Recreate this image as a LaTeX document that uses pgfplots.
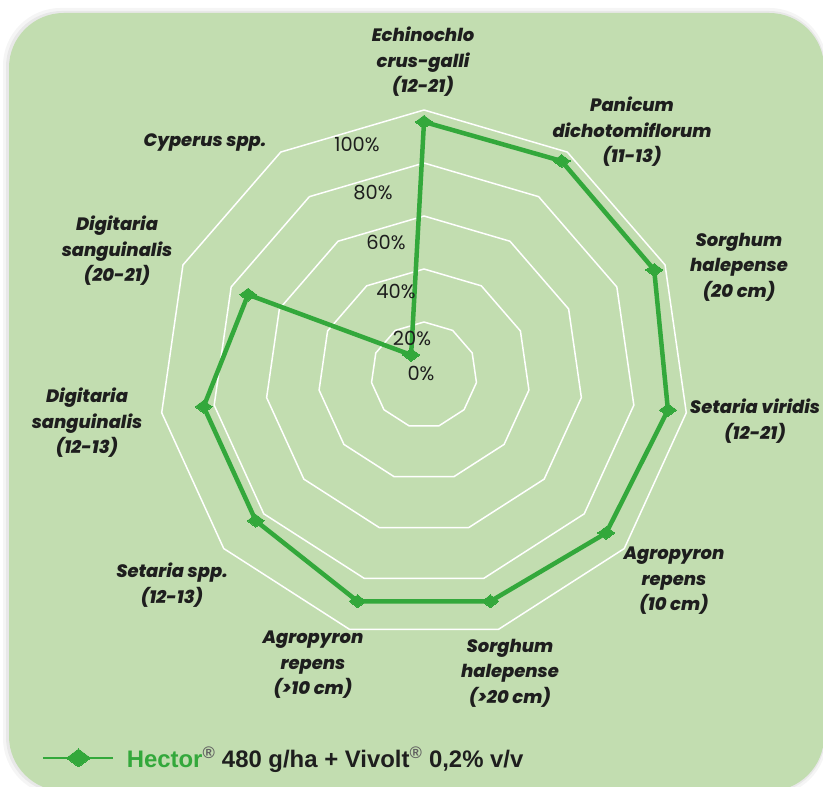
\documentclass[border=0pt]{standalone}
\usepackage{pgfplots}
\pgfplotsset{compat=1.18}
\usepgfplotslibrary{polar}
\usepackage{fontspec}
\setmainfont{Poppins}[BoldFont={Poppins Bold},BoldItalicFont={Poppins ExtraBold Italic}]
\newfontfamily\legfont{Liberation Sans}
\definecolor{card}{HTML}{C2DDB0}
\definecolor{hgreen}{HTML}{33A83B}
\definecolor{txt}{HTML}{1E1E1E}
\newcommand{\lab}{\fontsize{18}{25.5}\selectfont\bfseries\itshape\color{txt}}
\newcommand{\tl}{\fontsize{19.5}{22}\selectfont\color{txt}}
\begin{document}
\begin{tikzpicture}[x=1bp,y=1bp]
\useasboundingbox (0,0) rectangle (823,787);
\fill[white] (0,0) rectangle (823,787);
\fill[black,opacity=0.04,rounded corners=58] (3,-9) rectangle (827,779);
\fill[black,opacity=0.05,rounded corners=56] (6,-6) rectangle (825,776);
\fill[card,rounded corners=55] (9,-4) rectangle (824,774);

\begin{polaraxis}[
  at={(159bp,147bp)}, anchor=south west,
  scale only axis, width=530bp, height=530bp,
  xmin=0, xmax=360, ymin=0, ymax=100,
  hide axis, clip=false,
  legend style={at={(-0.2208,-0.2226)}, anchor=west, draw=none, fill=none,
    inner sep=0pt, font=\legfont\bfseries\fontsize{24}{29}\selectfont, text=txt},
  legend image code/.code={%
    \draw[#1,line width=2.6bp,mark=none] (0bp,0bp) -- (70bp,0bp);
    \draw[#1,mark size=12bp] plot coordinates {(35bp,0bp)};},
]
\pgfplotsinvokeforeach{20,40,60,80,100}{
\addplot[white, line width=1.5bp, mark=none, forget plot] coordinates {
(90,#1) (57.273,#1) (24.545,#1) (351.818,#1) (319.091,#1) (286.364,#1)
(253.636,#1) (220.909,#1) (188.182,#1) (155.455,#1) (122.727,#1) (90,#1)};
}
\addplot[hgreen, line width=4.5bp, line join=miter, mark=diamond*, mark size=8.5bp,
  mark options={rotate=90, solid, fill=hgreen, draw=hgreen, line width=0pt}]
coordinates {
(90,95.5) (57.273,96) (24.545,95.5) (351.818,93) (319.091,91) (286.364,89)
(253.636,89) (220.909,84) (188.182,84) (155.455,73) (122.727,9) (90,95.5)};
\addlegendentry{\hspace{10bp}\textcolor{hgreen}{Hector\textsuperscript{\color{txt!70}®}} 480 g/ha + Vivolt\textsuperscript{\color{txt!70}®} 0,2\% v/v}
\end{polaraxis}

\begin{scope}[shift={(0,787)}, yscale=-1]
\node[align=center,font=\lab] at (423,62) {Echinochlo\\crus-galli\\(12-21)};
\node[align=center,font=\lab] at (632,132) {Panicum\\dichotomiflorum\\(11-13)};
\node[align=center,font=\lab] at (739,267) {Sorghum\\halepense\\(20 cm)};
\node[align=center,font=\lab] at (755,421) {Setaria viridis\\(12-21)};
\node[align=center,font=\lab] at (674,581) {Agropyron\\repens\\(10 cm)};
\node[align=center,font=\lab] at (510,673) {Sorghum\\halepense\\(>20 cm)};
\node[align=center,font=\lab] at (313,665) {Agropyron\\repens\\(>10 cm)};
\node[align=center,font=\lab] at (172,585) {Setaria spp.\\(12-13)};
\node[align=center,font=\lab] at (87,423) {Digitaria\\sanguinalis\\(12-13)};
\node[align=center,font=\lab] at (117,251) {Digitaria\\sanguinalis\\(20-21)};
\node[align=center,font=\lab] at (205,143) {Cyperus spp.};
\node[font=\tl] at (357,144) {100\%};
\node[font=\tl] at (373,193) {80\%};
\node[font=\tl] at (386,242) {60\%};
\node[font=\tl] at (396,291) {40\%};
\node[font=\tl] at (412,338) {20\%};
\node[font=\tl] at (421,373) {0\%};
\end{scope}
\end{tikzpicture}
\end{document}
